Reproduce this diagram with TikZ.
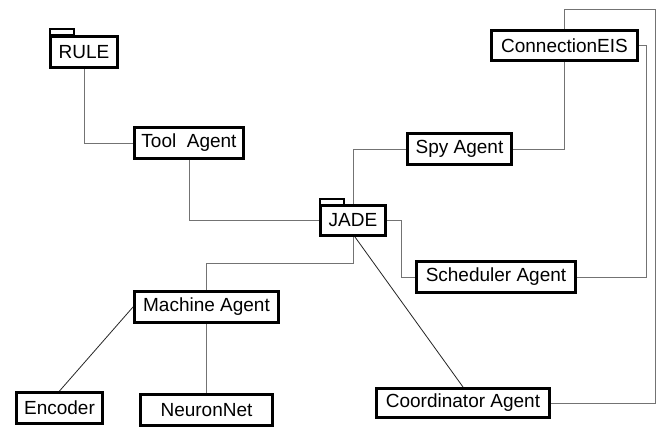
\documentclass[tikz,border=0pt]{standalone}
\usepackage{fontspec}
\setmainfont{Liberation Sans}
\begin{document}
\begin{tikzpicture}[x=1pt,y=-1pt,
  agent/.style={draw=black,line width=2.8pt,fill=white,inner sep=0pt,
    font=\fontsize{19}{22}\selectfont,anchor=center},
  tab/.style={draw=black,line width=2pt,fill=white},
  conn/.style={draw=black!55,line width=1pt},
  diag/.style={draw=black!85,line width=0.8pt}]
\clip (0,0) rectangle (659,426);
\fill[white] (0,0) rectangle (659,426);
% folder tabs
\draw[tab] (50,29) rectangle (73.5,35);
\draw[tab] (320,199) rectangle (343.5,204.5);
% nodes
\node[agent,minimum width=67.2pt,minimum height=31.2pt] (rule) at (84,52) {RULE};
\node[agent,minimum width=109.2pt,minimum height=31.2pt] (tool) at (189,143) {Tool\ \ Agent};
\node[agent,minimum width=65.2pt,minimum height=30.2pt] (jade) at (353,220.5) {JADE};
\node[agent,minimum width=104.2pt,minimum height=31.2pt] (spy) at (459.5,149) {Spy Agent};
\node[agent,minimum width=146.2pt,minimum height=30.2pt] (conn) at (564.5,45.5) {ConnectionEIS};
\node[agent,minimum width=159.2pt,minimum height=31.2pt] (sched) at (496,277) {Scheduler Agent};
\node[agent,minimum width=144.2pt,minimum height=31.2pt] (machine) at (206.5,307) {Machine Agent};
\node[agent,minimum width=86.2pt,minimum height=31.2pt] (encoder) at (59.5,408) {Encoder};
\node[agent,minimum width=132.2pt,minimum height=31.2pt] (neuron) at (206.5,410) {NeuronNet};
\node[agent,minimum width=173.2pt,minimum height=29.2pt] (coord) at (463,403) {Coordinator Agent};
\coordinate (tr) at (655.5,9);
% connectors
\draw[conn] (rule.south) |- (tool.west);
\draw[conn] (tool.south) |- (jade.west);
\draw[conn] (jade.north) |- (spy.west);
\draw[conn] (spy.east) -| (conn.south);
\draw[conn] (conn.north) |- (tr) |- (coord.east);
\draw[conn] (conn.east) -- ++(7,0) |- (sched.east);
\draw[conn] (jade.east) -- ++(14,0) |- (sched.west);
\draw[conn] (jade.south) -- ++(0,26) -| (machine.north);
\draw[conn] (machine.south) -- (neuron.north);
\draw[diag] (machine.west) -- (encoder.north);
\draw[diag] ([xshift=2pt]jade.south) -- (coord.north);
\end{tikzpicture}
\end{document}
